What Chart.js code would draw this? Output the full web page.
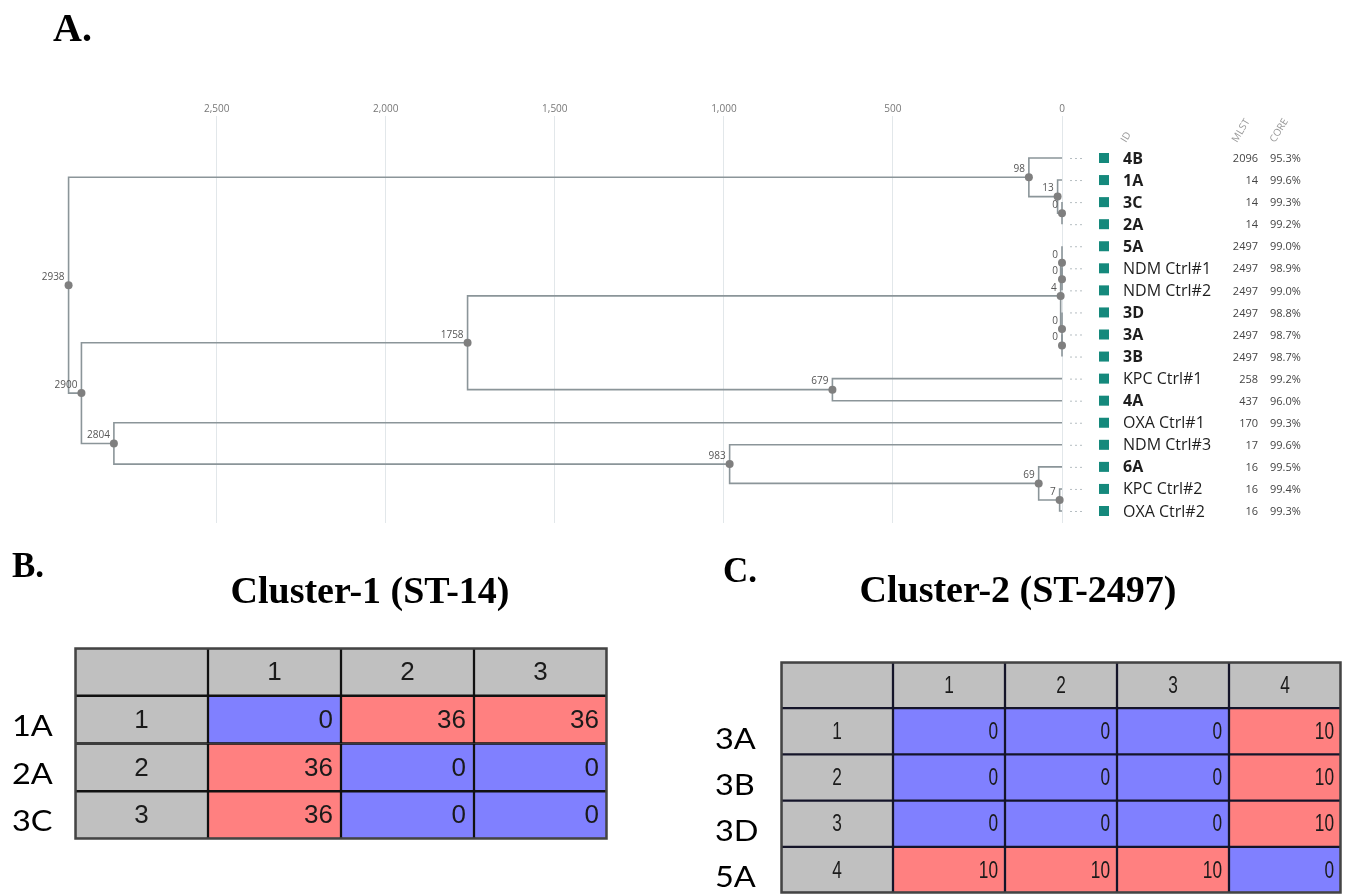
<!DOCTYPE html>
<html><head><meta charset="utf-8">
<script src="https://cdn.jsdelivr.net/npm/chart.js@4.4.1/dist/chart.umd.min.js"></script>
<style>
html,body{margin:0;padding:0;background:#fff;width:1346px;height:895px;overflow:hidden;}
.box{position:absolute;}
</style></head><body>
<div class="box" style="left:0;top:0;width:1346px;height:540px"><canvas id="dendro"></canvas></div>
<div class="box" style="left:0;top:540px;width:690px;height:310px"><canvas id="tabB"></canvas></div>
<div class="box" style="left:690px;top:540px;width:656px;height:355px"><canvas id="tabC"></canvas></div>
<script>
// ---------- Data ----------
const leafIds = ['4B','1A','3C','2A','5A','NDM Ctrl#1','NDM Ctrl#2','3D','3A','3B','KPC Ctrl#1','4A','OXA Ctrl#1','NDM Ctrl#3','6A','KPC Ctrl#2','OXA Ctrl#2'];
const leafMlst = [2096,14,14,14,2497,2497,2497,2497,2497,2497,258,437,170,17,16,16,16];
const leafCore = ['95.3%','99.6%','99.3%','99.2%','99.0%','98.9%','99.0%','98.8%','98.7%','98.7%','99.2%','96.0%','99.3%','99.6%','99.5%','99.4%','99.3%'];
const mergeIds = ['m1','m2','m3','m4','m5','m6','m7','m8','m9','m10','m11','m12','m13','m14','m15','m16'];
const mergeLeft = ['3C','1A','4B','NDM Ctrl#1','5A','3A','3D','m5','KPC Ctrl#1','m8','KPC Ctrl#2','6A','NDM Ctrl#3','OXA Ctrl#1','m10','m3'];
const mergeRight = ['2A','m1','m2','NDM Ctrl#2','m4','3B','m6','m7','4A','m9','OXA Ctrl#2','m11','m12','m13','m14','m15'];
const mergeDistance = [0,13,98,0,0,0,0,4,679,1758,7,69,983,2804,2900,2938];
const xTickValues = [0,500,1000,1500,2000,2500];
const columnHeaders = ['ID','MLST','CORE'];

const clusterBRows = ['1A','2A','3C'];
const clusterBValues = [[0,36,36],[36,0,0],[36,0,0]];
const clusterCRows = ['3A','3B','3D','5A'];
const clusterCValues = [[0,0,0,10],[0,0,0,10],[0,0,0,10],[10,10,10,0]];

// ---------- Dendrogram ----------
const pos = {};
leafIds.forEach((id,i)=>{ pos[id] = {x:0, y:i}; });
mergeIds.forEach((id,k)=>{
  const a = pos[mergeLeft[k]], b = pos[mergeRight[k]];
  pos[id] = {x: mergeDistance[k], y: (a.y + b.y) / 2};
});

const LINE = '#8b9599';
const datasets = mergeIds.map((id,k)=>{
  const a = pos[mergeLeft[k]], b = pos[mergeRight[k]], h = mergeDistance[k];
  return {type:'scatter', showLine:true,
    data:[{x:a.x,y:a.y},{x:h,y:a.y},{x:h,y:b.y},{x:b.x,y:b.y}],
    borderColor:LINE, borderWidth:1.6, pointRadius:0, tension:0, fill:false, clip:false, order:2};
});
datasets.push({type:'scatter', showLine:false,
  data: mergeIds.map(id=>({x:pos[id].x, y:pos[id].y})),
  pointRadius:4, pointHoverRadius:4, backgroundColor:'#7f7f7f', borderWidth:0, clip:false, order:1});

const dendroText = {
  id:'dendroText',
  afterDatasetsDraw(chart){
    const {ctx, scales:{x, y}} = chart;
    ctx.save();
    ctx.font = '10px "Open Sans"';
    ctx.fillStyle = '#555';
    ctx.textAlign = 'right';
    ctx.textBaseline = 'middle';
    mergeIds.forEach((id,k)=>{
      const px = x.getPixelForValue(pos[id].x), py = y.getPixelForValue(pos[id].y);
      ctx.fillText(String(mergeDistance[k]), px - 4, py - 8);
    });
    const R = x.getPixelForValue(0);
    leafIds.forEach((id,i)=>{
      const py = y.getPixelForValue(i);
      ctx.strokeStyle = '#b6bec2'; ctx.lineWidth = 1;
      ctx.setLineDash([2,3]);
      ctx.beginPath(); ctx.moveTo(R+8, py+0.5); ctx.lineTo(R+22, py+0.5); ctx.stroke();
      ctx.setLineDash([]);
      ctx.fillStyle = '#15897c';
      ctx.fillRect(R+37, py-5, 10, 10);
      const bold = id.indexOf('Ctrl') < 0;
      ctx.font = (bold ? 'bold ' : '') + '16px "Open Sans"';
      ctx.fillStyle = '#1e1e1e';
      ctx.textAlign = 'left'; ctx.textBaseline = 'middle';
      ctx.fillText(id, R+61, py+1);
      ctx.font = '11px "Open Sans"';
      ctx.fillStyle = '#444';
      ctx.textAlign = 'right';
      ctx.fillText(String(leafMlst[i]), R+196, py+1);
      ctx.textAlign = 'left';
      ctx.fillText(leafCore[i], R+208, py+1);
    });
    ctx.font = '10px "Open Sans"';
    ctx.fillStyle = '#999';
    ctx.textAlign = 'left'; ctx.textBaseline = 'alphabetic';
    const hx = [R+64, R+175, R+213];
    columnHeaders.forEach((t,j)=>{
      ctx.save(); ctx.translate(hx[j], 143); ctx.rotate(-59*Math.PI/180); ctx.fillText(t,0,0); ctx.restore();
    });
    ctx.font = 'bold 40px "Liberation Serif"';
    ctx.fillStyle = '#000';
    ctx.fillText('A.', 53, 41);
    ctx.restore();
  }
};

new Chart(document.getElementById('dendro'), {
  type:'scatter',
  data:{datasets},
  options:{
    responsive:true, maintainAspectRatio:false, animation:false, events:[], locale:'en-US',
    layout:{padding:{left:51, right:284, top:96, bottom:17}},
    plugins:{legend:{display:false}, tooltip:{enabled:false}},
    scales:{
      x:{type:'linear', position:'top', reverse:true, min:0, max:2990,
        afterBuildTicks:(s)=>{ s.ticks = xTickValues.map(v=>({value:v})); },
        afterFit:(s)=>{ s.height = 20; },
        ticks:{font:{family:'Open Sans', size:10}, color:'#777', padding:1, maxRotation:0, autoSkip:false,
          callback:(v)=>Number(v).toLocaleString('en-US')},
        grid:{color:'#e2e7ea', lineWidth:1, drawTicks:false},
        border:{display:false}},
      y:{type:'linear', reverse:true, min:-1.9036, max:16.544, display:false}
    }
  },
  plugins:[dendroText]
});

// ---------- Tables ----------
const GRAY = '#c0c0c0', BLUE = '#8080ff', RED = '#ff8080';
function tableChart(canvasId, rowNames, values, cfg){
  const n = values[0].length;
  const labels = [''].concat(rowNames);
  const ds = [];
  for (let c = 0; c <= n; c++){
    ds.push({
      data: labels.map(()=>1),
      backgroundColor: labels.map((_,r)=> (r===0 || c===0) ? GRAY : (values[r-1][c-1] === 0 ? BLUE : RED)),
      borderColor: cfg.line, borderWidth: cfg.lw, borderSkipped:false,
      barPercentage:1, categoryPercentage:1
    });
  }
  const txt = {
    id:'tableText',
    afterDatasetsDraw(chart){
      const {ctx, chartArea:a, scales:{y}} = chart;
      ctx.save();
      ctx.strokeStyle = cfg.frame; ctx.lineWidth = 2.5;
      ctx.strokeRect(a.left+0.5, a.top+0.5, a.right-a.left-1, a.bottom-a.top-1);
      ctx.fillStyle = '#1a1a1a';
      ctx.textBaseline = 'middle';
      ctx.font = cfg.cellFont;
      for (let c = 0; c <= n; c++){
        const meta = chart.getDatasetMeta(c);
        meta.data.forEach((el, r)=>{
          const l = Math.min(el.x, el.base), rt = Math.max(el.x, el.base);
          let t;
          if (r === 0) t = c === 0 ? '' : String(c);
          else if (c === 0) t = String(r);
          else t = String(values[r-1][c-1]);
          if (!t) return;
          const centered = (r === 0 || c === 0);
          ctx.save();
          if (centered){
            ctx.translate((l+rt)/2, el.y + 1); ctx.scale(cfg.sx, 1);
            ctx.textAlign = 'center';
          } else {
            ctx.translate(rt - cfg.pad, el.y + 1); ctx.scale(cfg.sx, 1);
            ctx.textAlign = 'right';
          }
          ctx.fillText(t, 0, 0);
          ctx.restore();
        });
      }
      // row labels
      ctx.fillStyle = '#000';
      ctx.font = '29px Lato';
      ctx.textAlign = 'left';
      rowNames.forEach((name, i)=>{
        const py = y.getPixelForValue(i+1) + cfg.labelOffset;
        ctx.save(); ctx.translate(cfg.labelX, py); ctx.scale(1.12, 1); ctx.fillText(name, 0, 0); ctx.restore();
      });
      // title and letter
      ctx.textBaseline = 'alphabetic';
      ctx.font = 'bold 38px "Liberation Serif"';
      ctx.textAlign = 'center';
      ctx.fillText(cfg.title, cfg.titleX, cfg.titleY);
      ctx.font = 'bold 35px "Liberation Serif"';
      ctx.textAlign = 'left';
      ctx.fillText(cfg.letter, cfg.letterX, cfg.letterY);
      ctx.restore();
    }
  };
  new Chart(document.getElementById(canvasId), {
    type:'bar',
    data:{labels, datasets:ds},
    options:{
      indexAxis:'y', responsive:true, maintainAspectRatio:false, animation:false, events:[],
      layout:{padding:cfg.padding},
      plugins:{legend:{display:false}, tooltip:{enabled:false}},
      scales:{
        x:{stacked:true, min:0, max:n+1, display:false},
        y:{stacked:true, display:false}
      }
    },
    plugins:[txt]
  });
}

tableChart('tabB', clusterBRows, clusterBValues, {
  line:'#111', lw:1.5, frame:'#444', cellFont:'26px "Liberation Sans"', sx:1, pad:8,
  padding:{left:75, top:108, right:83, bottom:11}, labelX:12, labelOffset:7,
  title:'Cluster-1 (ST-14)', titleX:370, titleY:63, letter:'B.', letterX:12, letterY:37
});
tableChart('tabC', clusterCRows, clusterCValues, {
  line:'#15152a', lw:1.5, frame:'#444', cellFont:'24px "Liberation Sans"', sx:0.72, pad:7,
  padding:{left:91, top:122, right:5, bottom:2}, labelX:25, labelOffset:8,
  title:'Cluster-2 (ST-2497)', titleX:328, titleY:62, letter:'C.', letterX:33, letterY:42
});
</script>
</body></html>
